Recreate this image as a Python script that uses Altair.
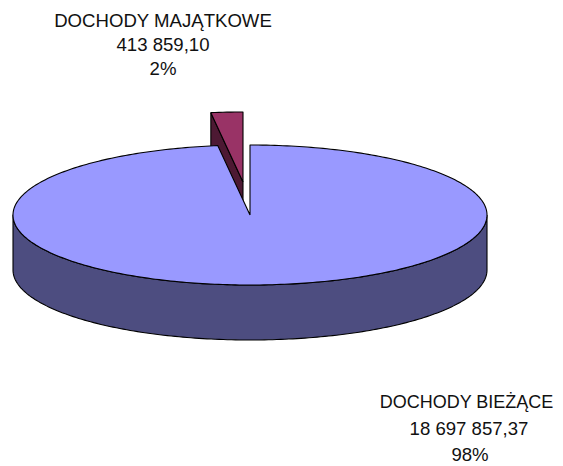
import math
import altair as alt
import pandas as pd

categories = ["DOCHODY BIEŻĄCE", "DOCHODY MAJĄTKOWE"]
values = [18697857.37, 413859.10]
value_labels = ["18 697 857,37", "413 859,10"]
percent_labels = ["98%", "2%"]

DEPTH = 55 / 70          # wall height in units of the ellipse's minor radius
EXPLODE_X = -7 / 237     # shift of the pulled-out slice
EXPLODE_Y = 33 / 70
X_DOMAIN = [-242 / 237, 305 / 237]
Y_DOMAIN = [-251 / 70, 207 / 70]

total = sum(values)
main_end = 360 * values[0] / total


def rim(a):
    r = math.radians(a)
    return math.sin(r), math.cos(r)


def arc(a0, a1):
    n = max(2, int(abs(a1 - a0)) + 1)
    return [rim(a0 + (a1 - a0) * i / n) for i in range(n + 1)]


def frame(points):
    points = list(points) + [points[0]]
    return pd.DataFrame(
        {"x": [p[0] for p in points], "y": [p[1] for p in points], "o": range(len(points))}
    )


xs = alt.Scale(domain=X_DOMAIN, nice=False, zero=False)
ys = alt.Scale(domain=Y_DOMAIN, nice=False, zero=False)


def poly(points, fill):
    return (
        alt.Chart(frame(points))
        .mark_line(fill=fill, stroke="black", strokeWidth=1.1, strokeJoin="round", clip=False)
        .encode(
            x=alt.X("x:Q", scale=xs, axis=None),
            y=alt.Y("y:Q", scale=ys, axis=None),
            order=alt.Order("o:Q"),
        )
    )


def shifted(points, dx=0.0, dy=0.0):
    return [(p[0] + dx, p[1] + dy) for p in points]


red_rim = arc(main_end, 360)
red_top = shifted([(0.0, 0.0)] + red_rim, EXPLODE_X, EXPLODE_Y)
apex = red_top[0]
left = red_top[1]
red_wall = [left, apex, (apex[0], apex[1] - DEPTH), (left[0], left[1] - DEPTH)]

front = arc(90, 270)
main_wall = front + shifted(front[::-1], 0, -DEPTH)
main_top = [(0.0, 0.0)] + arc(0, main_end)


def label(text, cx, cy, size=18.6):
    return (
        alt.Chart(pd.DataFrame({"t": [text]}))
        .mark_text(font="Liberation Sans", fontSize=size, color="#111111", align="center", baseline="middle")
        .encode(text="t:N", x=alt.value(cx - 8), y=alt.value(cy - 8))
    )


labels = [
    label(categories[1], 163, 21),
    label(value_labels[1], 163, 45),
    label(percent_labels[1], 163, 69),
    label(categories[0], 466.5, 403, 18),
    label(value_labels[0], 469, 429),
    label(percent_labels[0], 470, 455),
]

chart = alt.layer(
    poly(red_wall, "#4D1933"),
    poly(red_top, "#993366"),
    poly(main_wall, "#4D4D80"),
    poly(main_top, "#9999FF"),
    *labels,
).properties(width=547, height=458, padding=0, autosize=alt.AutoSizeParams(type="none")).configure_view(stroke=None)

chart.save("out.html", embed_options={"renderer": "svg", "actions": False})
